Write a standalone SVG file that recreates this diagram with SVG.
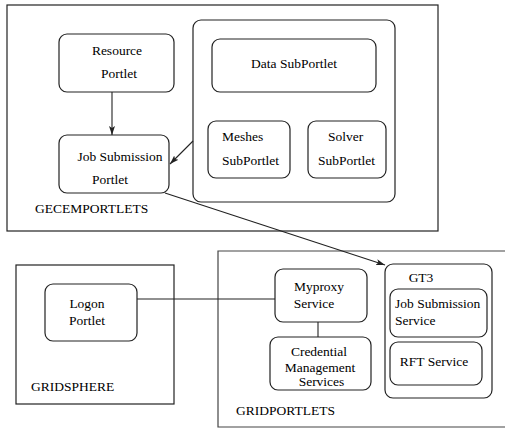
<svg xmlns="http://www.w3.org/2000/svg" width="505" height="428" viewBox="0 0 505 428">
  <style>
    .box { fill: none; stroke: #222; stroke-width: 1.2; }
    .frame { fill: none; stroke: #222; stroke-width: 1.2; }
    .wire { fill: none; stroke: #222; stroke-width: 1.1; }
    text { font-family: "Liberation Serif", "Times New Roman", serif; font-size: 13.5px; fill: #000; }
    .c { text-anchor: middle; }
  </style>
  <defs>
    <marker id="arrow" markerWidth="10" markerHeight="8" refX="9" refY="4" orient="auto" markerUnits="userSpaceOnUse">
      <path d="M0,1 L9,4 L0,7 L2,4 Z" fill="#222"/>
    </marker>
  </defs>
  <rect width="505" height="428" fill="#fff"/>

  <!-- GECEMPORTLETS frame -->
  <g id="gecemportlets">
    <rect class="frame" x="7" y="5" width="431" height="226"/>
    <text x="35" y="213">GECEMPORTLETS</text>
  </g>
  <g id="resource-portlet">
    <rect class="box" x="59" y="34" width="115" height="58" rx="8"/>
    <text class="c" x="117" y="55">Resource</text>
    <text class="c" x="119" y="78">Portlet</text>
  </g>
  <g id="job-submission-portlet">
    <rect class="box" x="59" y="135" width="110" height="58" rx="8"/>
    <text class="c" x="120" y="161">Job Submission</text>
    <text class="c" x="110" y="184">Portlet</text>
  </g>
  <g id="subportlet-container">
    <rect class="box" x="193" y="20" width="202" height="182" rx="8"/>
  </g>
  <g id="data-subportlet">
    <rect class="box" x="212" y="39" width="164" height="53" rx="8"/>
    <text class="c" x="294" y="68">Data SubPortlet</text>
  </g>
  <g id="meshes-subportlet">
    <rect class="box" x="208" y="121" width="82" height="57" rx="8"/>
    <text x="222" y="141">Meshes</text>
    <text x="222" y="165">SubPortlet</text>
  </g>
  <g id="solver-subportlet">
    <rect class="box" x="308" y="121" width="78" height="57" rx="8"/>
    <text class="c" x="345.5" y="141">Solver</text>
    <text class="c" x="346.5" y="165">SubPortlet</text>
  </g>

  <!-- GRIDSPHERE frame -->
  <g id="gridsphere">
    <rect class="frame" x="16" y="265" width="158" height="139"/>
    <text x="31" y="391">GRIDSPHERE</text>
  </g>
  <g id="logon-portlet">
    <rect class="box" x="45" y="284" width="92" height="57" rx="8"/>
    <text class="c" x="87" y="308">Logon</text>
    <text class="c" x="87" y="325">Portlet</text>
  </g>

  <!-- GRIDPORTLETS frame (open on the right) -->
  <g id="gridportlets">
    <path d="M505,251 H218 V427 H505" fill="none" stroke="#444" stroke-width="1.2"/>
    <text x="236" y="415">GRIDPORTLETS</text>
  </g>
  <g id="myproxy-service">
    <rect class="box" x="275" y="269" width="92" height="53" rx="8"/>
    <text class="c" x="319" y="291">Myproxy</text>
    <text class="c" x="314" y="308">Service</text>
  </g>
  <g id="credential-management">
    <rect class="box" x="270" y="337" width="101" height="53" rx="8"/>
    <text class="c" x="319" y="356">Credential</text>
    <text class="c" x="320" y="372">Management</text>
    <text class="c" x="321.5" y="386">Services</text>
  </g>
  <g id="gt3">
    <rect class="box" x="385" y="264" width="107" height="134" rx="8"/>
    <text class="c" x="421" y="282">GT3</text>
  </g>
  <g id="job-submission-service">
    <rect class="box" x="390" y="289" width="97" height="48" rx="8"/>
    <text x="395" y="308">Job Submission</text>
    <text x="395" y="325">Service</text>
  </g>
  <g id="rft-service">
    <rect class="box" x="390" y="342" width="92" height="43" rx="8"/>
    <text class="c" x="434" y="366">RFT Service</text>
  </g>

  <!-- connectors -->
  <g id="connectors">
    <line class="wire" x1="112" y1="92" x2="112" y2="135" marker-end="url(#arrow)"/>
    <line class="wire" x1="193" y1="141" x2="170" y2="164" marker-end="url(#arrow)"/>
    <line class="wire" x1="165" y1="193" x2="385" y2="265" marker-end="url(#arrow)"/>
    <line class="wire" x1="137" y1="299" x2="275" y2="299"/>
    <line class="wire" x1="318" y1="322" x2="318" y2="337"/>
  </g>
</svg>
